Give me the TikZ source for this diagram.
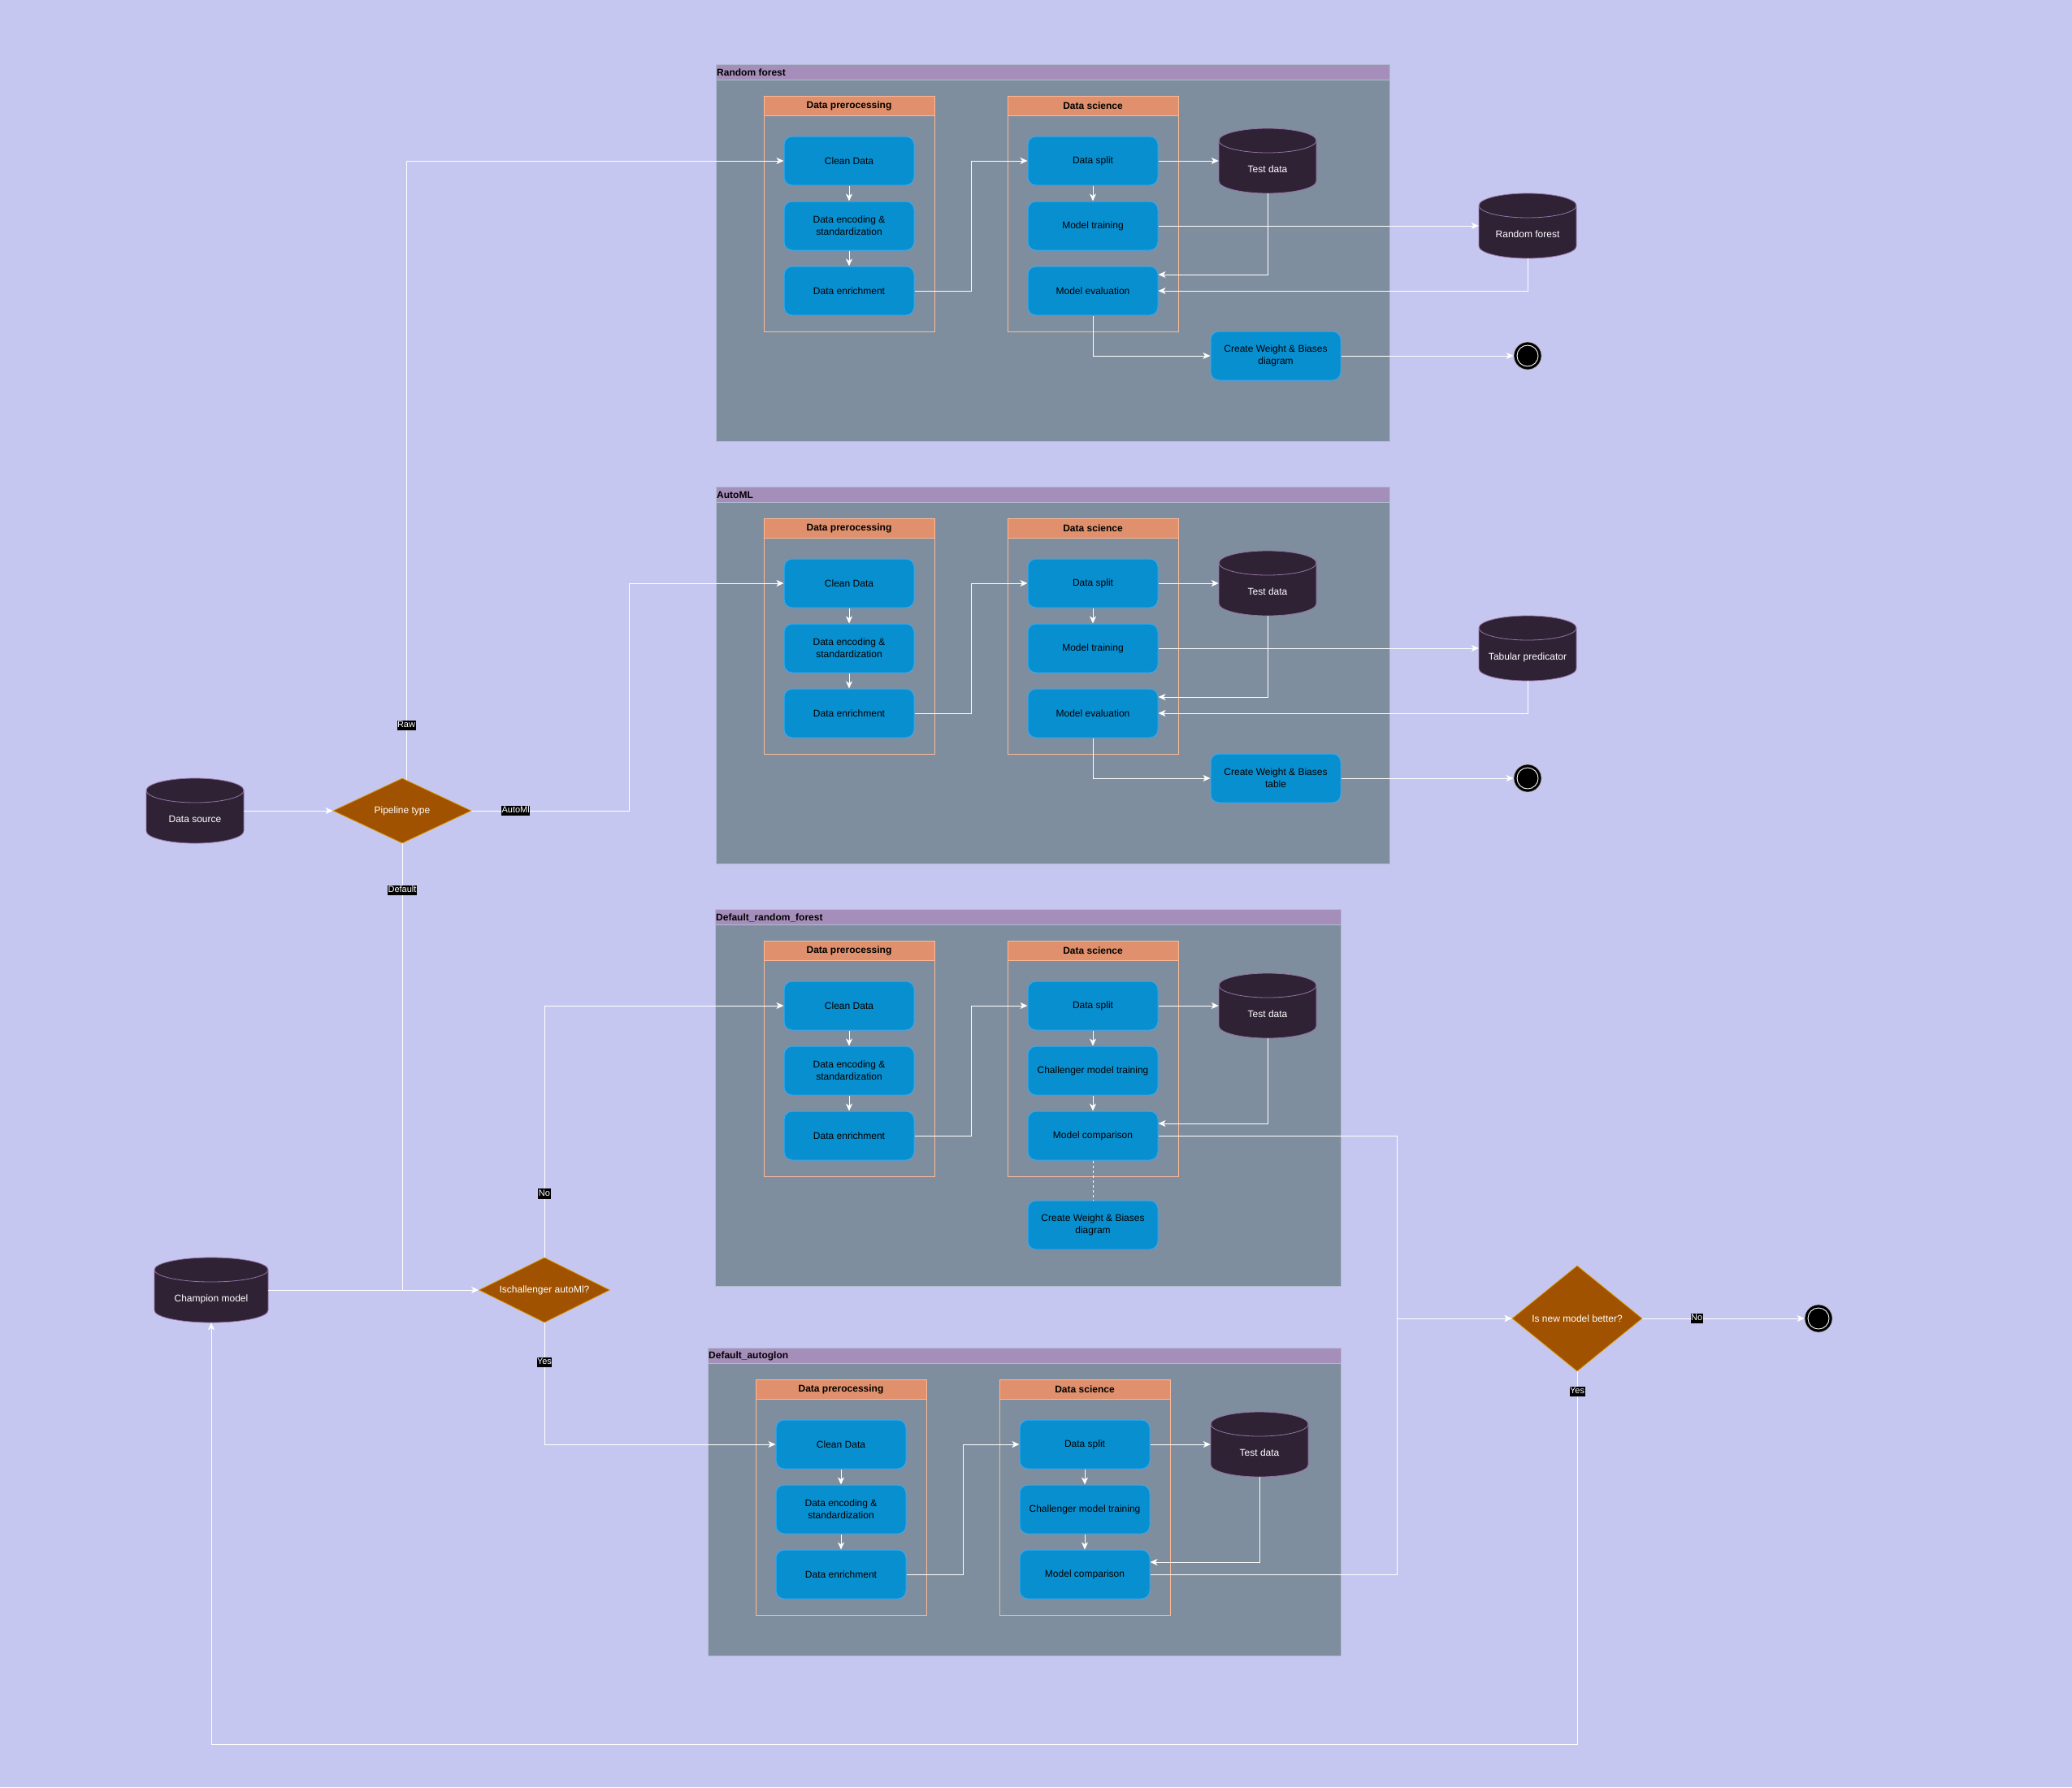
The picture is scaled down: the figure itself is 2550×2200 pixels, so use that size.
\documentclass[tikz,border=0pt]{standalone}
\usepackage{fontspec}
\setmainfont{Liberation Sans}
\usetikzlibrary{shapes.geometric,arrows.meta,calc}
\definecolor{bgc}{RGB}{198,199,240}
\definecolor{contbody}{RGB}{127,142,158}
\definecolor{conthead}{RGB}{166,142,187}
\definecolor{contedge}{RGB}{175,188,210}
\definecolor{laneheadc}{RGB}{224,144,108}
\definecolor{laneedge}{RGB}{252,185,150}
\definecolor{boxfill}{RGB}{8,143,208}
\definecolor{boxedge}{RGB}{55,168,240}
\definecolor{cylfill}{RGB}{47,34,53}
\definecolor{cyledge}{RGB}{150,115,166}
\definecolor{diafill}{RGB}{160,82,0}
\definecolor{diaedge}{RGB}{215,150,0}
\tikzset{
  flow/.style={draw=white, line width=1pt, -{Stealth[length=9pt,width=8pt,inset=2.5pt]}},
  wire/.style={draw=white, line width=1pt},
  procbox/.style={rectangle, rounded corners=10pt, fill=boxfill, draw=boxedge, line width=1pt,
    minimum width=160pt, minimum height=60pt, align=center, inner sep=2pt,
    font=\fontsize{12}{15}\selectfont, text=black},
  lanehd/.style={rectangle, fill=laneheadc, draw=laneedge, line width=1pt, minimum width=210pt,
    minimum height=24pt, inner sep=0pt, font=\bfseries\fontsize{12}{14}\selectfont, text=black},
  laneframe/.style={draw=laneedge, line width=1pt},
  dbnode/.style={rectangle, minimum width=#1, minimum height=80pt, inner sep=0pt, text=white,
    font=\fontsize{12}{14}\selectfont, text height=28.5pt, text depth=0pt},
  dbnode/.default=120pt,
  dia/.style={diamond, fill=diafill, draw=diaedge, line width=0.8pt, inner sep=0pt, text=white,
    font=\fontsize{12}{14}\selectfont},
  endc/.style={circle, fill=black, draw=black!30, line width=0.6pt, minimum size=34pt, inner sep=0pt,
    path picture={\draw[white, line width=0.9pt] (path picture bounding box.center) circle[radius=13];}},
  elabel/.style={fill=black, text=white, font=\fontsize{11}{13}\selectfont, inner xsep=0.5pt,
    inner ysep=1pt, text height=8pt, text depth=2.5pt},
  ctitle/.style={anchor=west, inner sep=1pt, font=\bfseries\fontsize{12}{14}\selectfont, text=black}
}
% cylinder body: cx, cy, half width, half height
\newcommand\cylbody[4]{%
  \filldraw[fill=cylfill, draw=cyledge, line width=0.8pt]
    (#1-#3,#2-#4+15) -- (#1-#3,#2+#4-15)
    arc[start angle=180, end angle=0, x radius=#3, y radius=15]
    -- (#1+#3,#2-#4+15)
    arc[start angle=0, end angle=-180, x radius=#3, y radius=15] -- cycle;
  \draw[cyledge, line width=0.8pt] (#1-#3,#2-#4+15) arc[start angle=180, end angle=0, x radius=#3, y radius=15];
}
% container: x1,y1,x2,y2,name,title
\newcommand\contbox[6]{%
  \fill[contbody] (#1,#2+19) rectangle (#3,#4);
  \fill[conthead] (#1,#2) rectangle (#3,#2+19);
  \draw[contedge, line width=1pt] (#1,#2) rectangle (#3,#4);
  \draw[contedge, line width=1pt] (#1,#2+19) -- (#3,#2+19);
  \node[ctitle] (#5) at (#1,#2+10.5) {#6};
}
% pipeline block: prefix, dx, dy, mid text, bottom text
\newcommand\pipeblock[5]{%
\begin{scope}[shift={(#2,#3)}]
  \draw[laneframe] (940,142) rectangle (1150,408);
  \draw[laneframe] (1240,142) rectangle (1450,408);
  \node[lanehd] (#1lp) at (1045,130) {Data prerocessing};
  \node[lanehd] (#1ls) at (1345,130) {Data science};
  \node[procbox] (#1clean) at (1045,198) {Clean Data};
  \node[procbox] (#1enc) at (1045,278) {Data encoding \&\\standardization};
  \node[procbox] (#1enr) at (1045,358) {Data enrichment};
  \node[procbox] (#1split) at (1345,198) {Data split};
  \node[procbox] (#1mid) at (1345,278) {#4};
  \node[procbox] (#1bot) at (1345,358) {#5};
  \cylbody{1560}{198}{60}{40}
  \node[dbnode] (#1td) at (1560,198) {Test data};
  \draw[flow] (#1clean) -- (#1enc);
  \draw[flow] (#1enc) -- (#1enr);
  \draw[flow] (#1enr.east) -- (1195,358) |- (#1split.west);
  \draw[flow] (#1split) -- (#1td);
  \draw[flow] (#1split) -- (#1mid);
\end{scope}}

\begin{document}
\begin{tikzpicture}[x=1pt,y=-1pt]
\useasboundingbox (0,0) rectangle (2550,2200);
\fill[bgc] (0,0) rectangle (2550,2200);

% containers
\contbox{881}{79}{1710}{543}{rftitle}{Random forest}
\contbox{881}{599}{1710}{1063}{amtitle}{AutoML}
\contbox{880}{1119}{1650}{1583}{drftitle}{Default\_random\_forest}
\contbox{871}{1659}{1650}{2038}{dagtitle}{Default\_autoglon}

% blocks
\pipeblock{rf}{0}{0}{Model training}{Model evaluation}
\pipeblock{am}{0}{520}{Model training}{Model evaluation}
\pipeblock{drf}{0}{1040}{Challenger model training}{Model comparison}
\pipeblock{dag}{-10}{1580}{Challenger model training}{Model comparison}

% Random forest extras
\cylbody{1880}{278}{60}{40}
\node[dbnode] (rfmodel) at (1880,278) {Random forest};
\node[procbox] (rfwb) at (1570,438) {Create Weight \& Biases\\diagram};
\node[endc] (rfend) at (1880,438) {};
\draw[flow] (rfmid) -- (rfmodel);
\draw[flow] (rftd.south) |- ([yshift=20pt]rfbot.east);
\draw[flow] (rfmodel.south) |- (rfbot.east);
\draw[flow] (rfbot.south) |- (rfwb.west);
\draw[flow] (rfwb) -- (rfend);

% AutoML extras
\cylbody{1880}{798}{60}{40}
\node[dbnode] (ammodel) at (1880,798) {Tabular predicator};
\node[procbox] (amwb) at (1570,958) {Create Weight \& Biases\\table};
\node[endc] (amend) at (1880,958) {};
\draw[flow] (ammid) -- (ammodel);
\draw[flow] (amtd.south) |- ([yshift=20pt]ambot.east);
\draw[flow] (ammodel.south) |- (ambot.east);
\draw[flow] (ambot.south) |- (amwb.west);
\draw[flow] (amwb) -- (amend);

% Default random forest extras
\node[procbox] (drfwb) at (1345,1508) {Create Weight \& Biases\\diagram};
\draw[flow] (drfmid) -- (drfbot);
\draw[flow] (drftd.south) |- ([yshift=15pt]drfbot.east);
\draw[wire, dash pattern=on 3pt off 3pt] (drfbot) -- (drfwb);

% Default autoglon extras
\draw[flow] (dagmid) -- (dagbot);
\draw[flow] (dagtd.south) |- ([yshift=15pt]dagbot.east);

% left side
\cylbody{240}{998}{60}{40}
\node[dbnode] (dsrc) at (240,998) {Data source};
\node[dia, minimum width=170pt, minimum height=80pt, aspect=2.125] (pipe) at (495,998) {Pipeline type};
\cylbody{260}{1588}{70}{40}
\node[dbnode=140pt] (champ) at (260,1588) {Champion model};
\node[dia, minimum width=161pt, minimum height=80pt, aspect=2] (chal) at (670,1588) {Ischallenger autoMl?};
\node[dia, minimum width=160pt, minimum height=130pt, aspect=1.23] (better) at (1941,1623) {Is new model better?};
\node[endc] (end3) at (2238,1623) {};

\draw[flow] (dsrc) -- (pipe);
\draw[flow] ([xshift=5pt,yshift=-2.4pt]pipe.north) |- node[elabel, pos=0.044] {Raw} (rfclean.west);
\draw[flow] (pipe.east) -- node[elabel, pos=0.28] {AutoMl} ++(194,0) |- (amclean.west);
\draw[wire] (pipe.south) -- node[elabel, pos=0.105] {Default} (pipe.south |- chal.west);
\draw[flow] (champ) -- (chal);
\draw[flow] (chal.north) |- node[elabel, pos=0.126] {No} (drfclean.west);
\draw[flow] (chal.south) |- node[elabel, pos=0.163] {Yes} (dagclean.west);
\draw[flow] (drfbot.east) -- ++(294,0) |- (better.west);
\draw[flow] (dagbot.east) -- ++(304,0) |- (better.west);
\draw[flow] (better.east) -- node[elabel, pos=0.335] {No} (end3);
\draw[flow] (better.south) -- node[elabel, pos=0.054] {Yes} ++(0,459) -| (champ.south);
\end{tikzpicture}
\end{document}
